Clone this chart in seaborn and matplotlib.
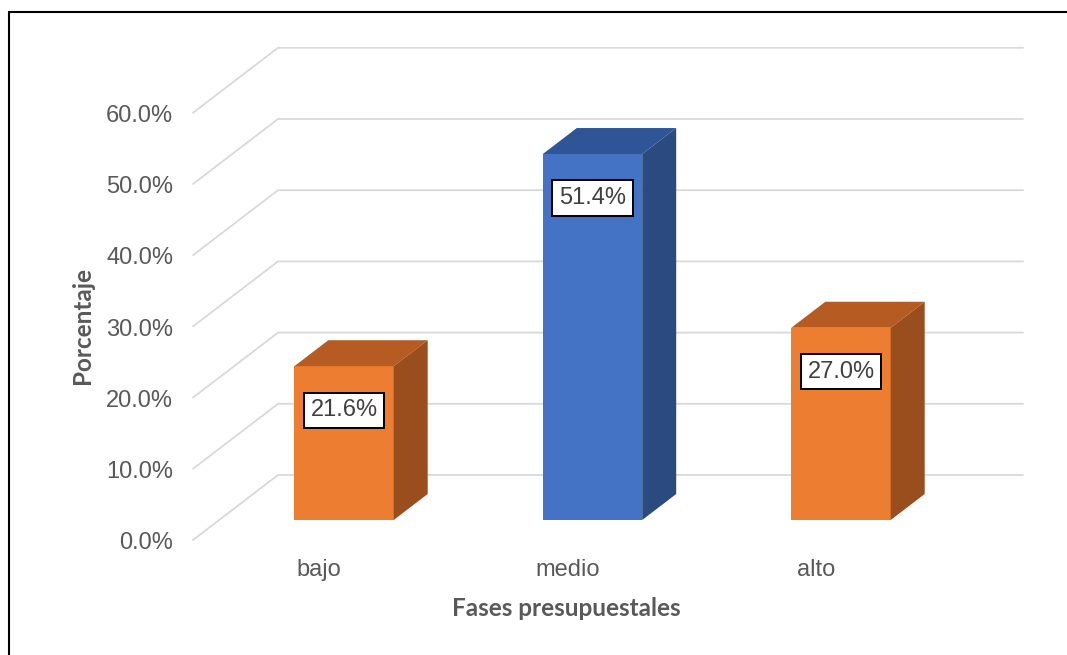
import matplotlib
matplotlib.use("Agg")
import matplotlib.pyplot as plt
from matplotlib.patches import Polygon
from matplotlib.lines import Line2D
import seaborn as sns
import pandas as pd

# Data
categories = ["bajo", "medio", "alto"]
values = [21.6, 51.4, 27.0]
bar_labels = ["21.6%", "51.4%", "27.0%"]
grid_values = [0, 10, 20, 30, 40, 50, 60]
tick_labels = ["0.0%", "10.0%", "20.0%", "30.0%", "40.0%", "50.0%", "60.0%"]
x_title = "Fases presupuestales"
y_title = "Porcentaje"

# Styling
front_colors = ["#ED7D31", "#4472C4", "#ED7D31"]
top_colors = ["#B65C22", "#2F5597", "#B65C22"]
side_colors = ["#9A4E1D", "#2A4A80", "#9A4E1D"]
text_gray = "#595959"
grid_gray = "#D9D9D9"

sns.set_theme(style="white")
plt.rcParams["font.family"] = ["Liberation Sans", "DejaVu Sans"]

W, H = 1067, 655
fig = plt.figure(figsize=(W / 100, H / 100), dpi=100)

# pixel geometry of the plotting area
px_cat0 = 344.0      # centre of first bar front face
px_per_cat = 248.5   # spacing between categories
py_zero = 520.0      # baseline of bar front faces
px_per_pct = 7.12

ax_l, ax_r, ax_t, ax_b = 150, W, 20, 600
ax = fig.add_axes([ax_l / W, 1 - ax_b / H, (ax_r - ax_l) / W, (ax_b - ax_t) / H])

def xd(px):
    return (px - px_cat0) / px_per_cat

def yd(py):
    return (py_zero - py) / px_per_pct

ax.set_xlim(xd(ax_l), xd(ax_r))
ax.set_ylim(yd(ax_b), yd(ax_t))
ax.set_axis_off()

# oblique depth
depth_dx = 34 / px_per_cat
depth_dy = 26 / px_per_pct
front_off = -20 / px_per_pct   # floor front edge below bar baseline
back_off = 45 / px_per_pct     # back wall above bar baseline
x_front = xd(193)
x_back = xd(278)
x_right = xd(1023)

# gridlines: floor diagonals + back wall
for v in grid_values:
    ax.plot([x_front, x_back, x_right], [v + front_off, v + back_off, v + back_off],
            color=grid_gray, lw=1.3, zorder=0, solid_joinstyle="miter")

for v, lab in zip(grid_values, tick_labels):
    ax.text(xd(173), v + front_off - 0.45, lab, ha="right", va="center",
            fontsize=17, color=text_gray)

df = pd.DataFrame({"fase": categories, "pct": values})
sns.barplot(data=df, x="fase", y="pct", hue="fase", palette=front_colors,
            width=0.4, legend=False, ax=ax, zorder=3, linewidth=0, saturation=1)
ax.set_xlim(xd(ax_l), xd(ax_r))
ax.set_ylim(yd(ax_b), yd(ax_t))

for i, patch in enumerate(ax.patches):
    x0 = patch.get_x()
    x1 = x0 + patch.get_width()
    h = patch.get_height()
    top = Polygon([(x0, h), (x1, h), (x1 + depth_dx, h + depth_dy), (x0 + depth_dx, h + depth_dy)],
                  closed=True, facecolor=top_colors[i], edgecolor="none", zorder=3)
    side = Polygon([(x1, 0), (x1 + depth_dx, depth_dy), (x1 + depth_dx, h + depth_dy), (x1, h)],
                   closed=True, facecolor=side_colors[i], edgecolor="none", zorder=3)
    ax.add_patch(top)
    ax.add_patch(side)
    ax.text(x0 + patch.get_width() / 2, h - 44 / px_per_pct, bar_labels[i],
            ha="center", va="center", fontsize=17, color="#404040", zorder=5,
            bbox=dict(boxstyle="square,pad=0.28", fc="white", ec="black", lw=1.4))

for i, c in enumerate(categories):
    ax.text(i - 25 / px_per_cat, yd(570), c, ha="center", va="center",
            fontsize=17, color=text_gray)

fig.text(566 / W, 1 - 608 / H, x_title, ha="center", va="center", fontsize=17.5,
         fontweight="bold", color=text_gray, family=["Lato", "DejaVu Sans"])
fig.text(83 / W, 1 - 326 / H, y_title, ha="center", va="center", fontsize=17.5,
         fontweight="bold", color=text_gray, rotation=90, family=["Lato", "DejaVu Sans"])

# outer frame (left and top edges)
fig.add_artist(Line2D([9 / W, 9 / W], [0, 1 - 12 / H], color="black", lw=1.5))
fig.add_artist(Line2D([9 / W, 1], [1 - 12 / H, 1 - 12 / H], color="black", lw=1.5))

fig.savefig("out.png", dpi=100, facecolor="white")
